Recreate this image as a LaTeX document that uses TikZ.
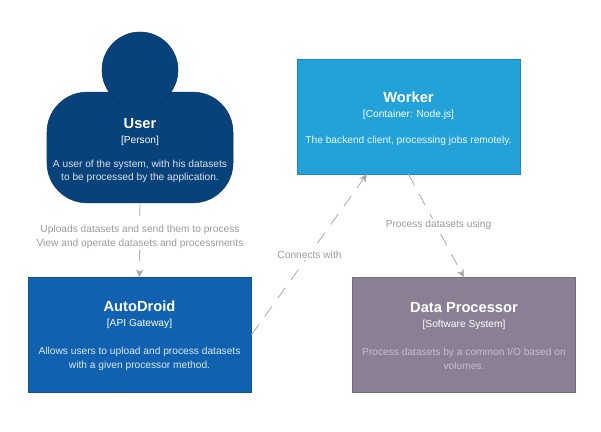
\documentclass[tikz,border=0pt]{standalone}
\usepackage{fontspec}
\setmainfont{Liberation Sans}
\usetikzlibrary{arrows.meta,positioning}

\definecolor{personblue}{RGB}{8,66,123}
\definecolor{gatewayblue}{RGB}{16,98,176}
\definecolor{workerblue}{RGB}{35,162,217}
\definecolor{systemgrey}{RGB}{139,127,150}
\definecolor{linkgrey}{RGB}{178,178,178}
\definecolor{labelgrey}{RGB}{155,155,155}

%top pad, gap, title, tag, description, description colour
\newcommand{\boxtext}[6]{{\fontsize{11}{14}\bfseries\rule{0pt}{\dimexpr 8pt+#1\relax}#3\par}{\fontsize{7.65}{11.2}\selectfont #4\par}\vspace{#2}{\fontsize{7.65}{10}\selectfont\color{#6}#5\par}}

\tikzset{
  c4box/.style={rectangle,draw=#1!85!black,line width=0.4pt,fill=#1,text=white,text width=167.5pt,minimum height=86pt,align=flush center,inner sep=0pt},
  link/.style={draw=linkgrey,line width=0.7pt,dash pattern={on 9.5pt off 7.5pt},-{Stealth[length=6pt,width=5.5pt,inset=1.5pt,fill=gray!80]}},
  linklabel/.style={fill=white,text=labelgrey,font=\fontsize{7.65}{10}\selectfont,text width=#1,align=flush center,inner sep=1pt}
}

\begin{document}
\begin{tikzpicture}[x=0.75pt,y=0.75pt,yscale=-1,xscale=1]
\useasboundingbox (0,0) rectangle (601,432);

%Person
\node [c4box=personblue,rounded corners=30pt,text width=139.5pt,minimum height=83pt] (user) at (140,147.5) {\boxtext{4.3pt}{8pt}{User}{[Person]}{A user of the system, with his datasets\\to be processed by the application.}{white!85!personblue}};
\node [circle,draw=personblue!85!black,line width=0.4pt,fill=personblue,minimum size=57pt,inner sep=0pt] (head) at (140,70) {};

%Boxes
\node [c4box=gatewayblue] (autodroid) at (139.5,335) {\boxtext{1.2pt}{11pt}{AutoDroid}{[API Gateway]}{Allows users to upload and process datasets\\with a given processor method.}{white!85!gatewayblue}};
\node [c4box=workerblue] (worker) at (408.5,116.5) {\boxtext{3.3pt}{9.3pt}{Worker}{[Container: Node.js]}{The backend client, processing jobs remotely.}{white!92!workerblue}};
\node [c4box=systemgrey] (processor) at (464,335) {\boxtext{1.2pt}{11pt}{Data Processor}{[Software System]}{Process datasets by a common I/O based on\\volumes.}{white!50!systemgrey}};

%Connector ends
\coordinate (workerin) at (367,174);

%Connectors
\draw [link] (user.south) -- (autodroid.north);
\draw [link] (autodroid.east) -- (workerin);
\draw [link] (worker.south) -- (processor.north);

% Text Node
\node [linklabel=170pt] (uselabel) at (140,237) {Uploads datasets and send them to process\\View and operate datasets and processments};
% Text Node
\node [linklabel=50pt] (connectlabel) at (309.5,254.5) {Connects with};
% Text Node
\node [linklabel=82pt] (processlabel) at (438.5,225) {Process datasets using};

\end{tikzpicture}
\end{document}
